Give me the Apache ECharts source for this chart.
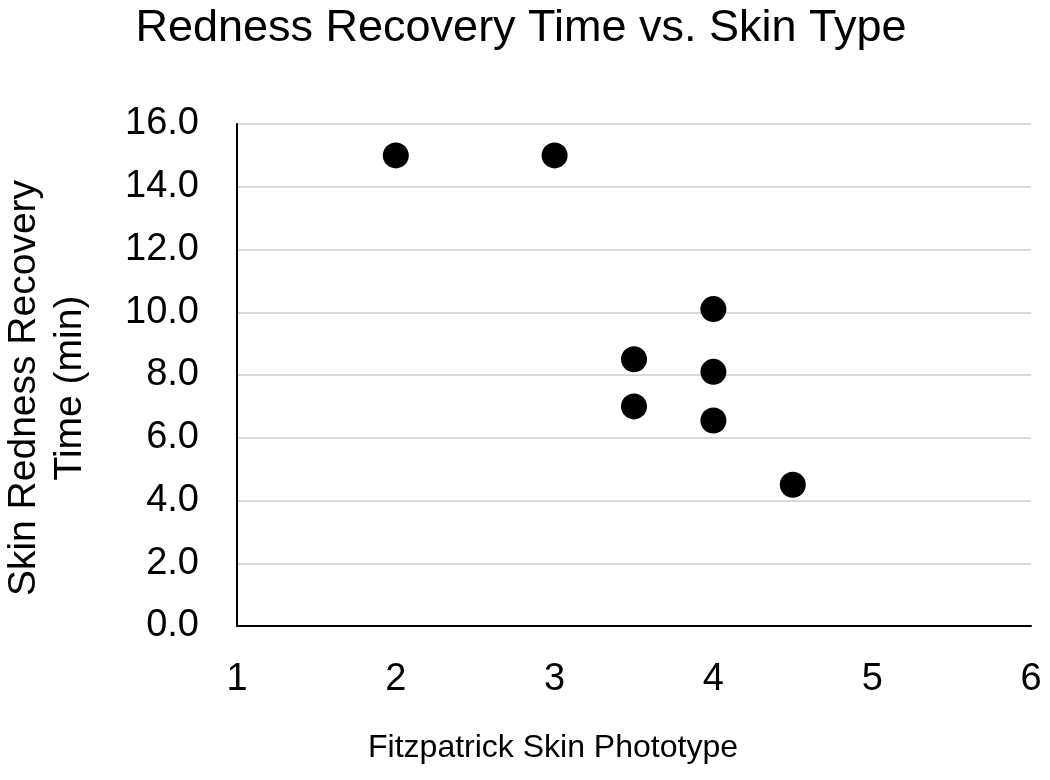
<!DOCTYPE html>
<html>
<head>
<meta charset="utf-8">
<script src="https://cdn.jsdelivr.net/npm/echarts@6/dist/echarts.min.js"></script>
<style>html,body{margin:0;padding:0;background:#fff}#chart{width:1050px;height:780px}</style>
</head>
<body>
<div id="chart"></div>
<script>
const titleText = 'Redness Recovery Time vs. Skin Type';
const xAxisName = 'Fitzpatrick Skin Phototype';
const yAxisName = 'Skin Redness Recovery\nTime (min)';
const phototype = [2, 3, 3.5, 3.5, 4, 4, 4, 4.5];
const recoveryMin = [15.0, 15.0, 8.5, 7.0, 10.1, 8.1, 6.55, 4.5];

const font = '"Liberation Sans", Arial, sans-serif';
const points = phototype.map((x, i) => [x, recoveryMin[i]]);

const chart = echarts.init(document.getElementById('chart'));
chart.setOption({
  backgroundColor: '#ffffff',
  animation: false,
  title: {
    text: titleText,
    left: 516,
    textAlign: 'center',
    top: 1,
    textStyle: { fontFamily: font, fontSize: 45, fontWeight: 'normal', color: '#000' }
  },
  grid: { left: 237, right: 19, top: 124, bottom: 154, containLabel: false, outerBoundsMode: 'none' },
  xAxis: {
    type: 'value',
    min: 1, max: 6, interval: 1,
    name: xAxisName,
    nameLocation: 'middle',
    nameGap: 106,
    nameTextStyle: { fontFamily: font, fontSize: 32, color: '#000', padding: [0, 162, 0, 0] },
    axisLine: { show: true, lineStyle: { color: '#000', width: 2 } },
    axisTick: { show: false },
    splitLine: { show: false },
    axisLabel: { fontFamily: font, fontSize: 38, color: '#000', margin: 35 }
  },
  yAxis: {
    type: 'value',
    min: 0, max: 16, interval: 2,
    name: yAxisName,
    nameLocation: 'middle',
    nameGap: 144,
    nameTextStyle: { fontFamily: font, fontSize: 39, color: '#000', lineHeight: 46, padding: [0, 26, 0, 0] },
    axisLine: { show: true, lineStyle: { color: '#000', width: 2 } },
    axisTick: { show: false },
    splitLine: { show: true, lineStyle: { color: '#d9d9d9', width: 2 } },
    axisLabel: { fontFamily: font, fontSize: 38, color: '#000', margin: 38, formatter: v => v.toFixed(1) }
  },
  series: [{
    type: 'scatter',
    data: points,
    symbol: 'circle',
    symbolSize: 26,
    itemStyle: { color: '#000', opacity: 1 }
  }]
});
</script>
</body>
</html>
